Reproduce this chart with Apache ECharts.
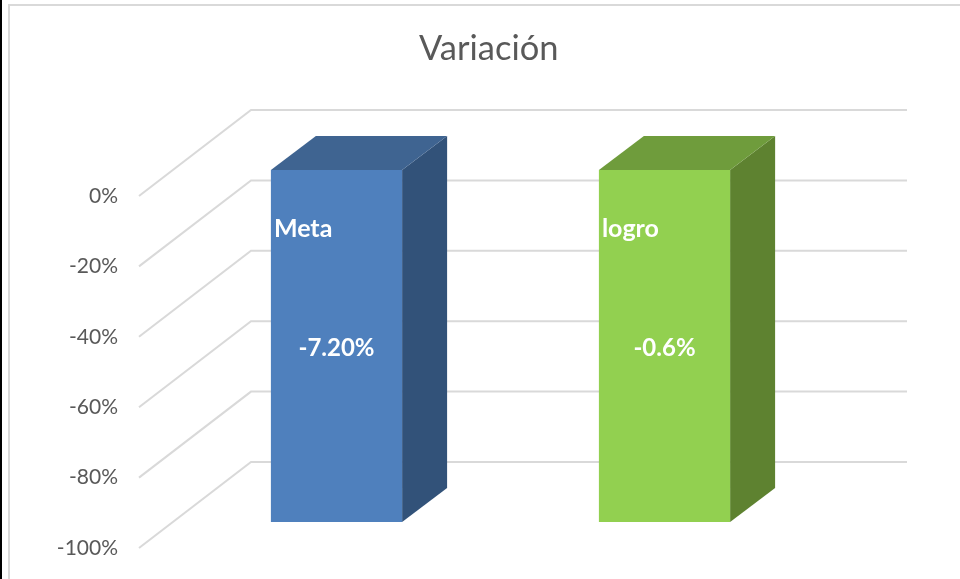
<!DOCTYPE html>
<html>
<head>
<meta charset="utf-8">
<style>html,body{margin:0;padding:0;background:#fff}#c{width:960px;height:579px}</style>
<script src="https://cdn.jsdelivr.net/npm/echarts@6/dist/echarts.min.js"></script>
</head>
<body>
<div id="c"></div>
<script>
const categories = ['Meta', 'logro'];
const barValues = [-100, -100];
const valueLabels = ['-7.20%', '-0.6%'];
const tickValues = [0, -20, -40, -60, -80, -100];
const frontColors = ['#4F80BD', '#92D050'];
const topColors = ['#3F6491', '#6F9C3C'];
const sideColors = ['#325279', '#5E8230'];
const FONT = 'Lato, "Open Sans", sans-serif';

const wallDx = 112, wallDy = -86;     // full depth of the 3D floor
const barInDx = 33.5, barInDy = -26;  // gap from front plane to bar front
const barDx = 45, barDy = -34;        // depth of each bar
const barFrac = 0.4;

const chart = echarts.init(document.getElementById('c'), null, {renderer: 'canvas'});
chart.setOption({
  animation: false,
  backgroundColor: '#fff',
  title: {
    text: 'Variación', left: 414, top: 26,
    textStyle: {fontFamily: FONT, fontSize: 34.5, fontWeight: 'normal', color: '#595959'}
  },
  graphic: [
    {type: 'rect', shape: {x: 0, y: 0, width: 2, height: 579}, style: {fill: '#000'}},
    {type: 'polyline', shape: {points: [[9, 579], [9, 5], [960, 5]]}, style: {stroke: '#D9D9D9', lineWidth: 2, fill: null}}
  ],
  grid: {left: 139, right: 165, top: 196, bottom: 31},
  xAxis: {type: 'category', data: categories, show: false},
  yAxis: {
    type: 'value', min: -100, max: 0, interval: 20,
    axisLine: {show: false}, axisTick: {show: false}, splitLine: {show: false},
    axisLabel: {formatter: '{value}%', margin: 21, padding: [4, 0, 0, 0], fontFamily: FONT, fontSize: 21, color: '#595959'}
  },
  series: [
    {
      type: 'custom', clip: false, silent: true, z: 1,
      data: tickValues.map(v => [0, v]),
      encode: {x: 0, y: 1},
      renderItem(params, api) {
        const cs = params.coordSys;
        const y = api.coord([0, api.value(1)])[1];
        return {
          type: 'polyline',
          shape: {points: [[cs.x, y], [cs.x + wallDx, y + wallDy], [cs.x + cs.width + wallDx, y + wallDy]]},
          style: {stroke: '#D9D9D9', lineWidth: 2, fill: null}
        };
      }
    },
    {
      type: 'custom', clip: false, silent: true, z: 2,
      data: barValues.map((v, i) => [i, v]),
      encode: {x: 0, y: 1},
      renderItem(params, api) {
        const i = params.dataIndex;
        const zero = api.coord([i, 0]);
        const end = api.coord([i, api.value(1)]);
        const w = api.size([1, 0])[0] * barFrac;
        const l = zero[0] + barInDx - w / 2, r = l + w;
        const t = zero[1] + barInDy, b = end[1] + barInDy;
        const h = b - t;
        return {
          type: 'group',
          children: [
            {type: 'polygon', shape: {points: [[r, t], [r + barDx, t + barDy], [r + barDx, b + barDy], [r, b]]}, style: {fill: sideColors[i]}},
            {type: 'polygon', shape: {points: [[l, t], [l + barDx, t + barDy], [r + barDx, t + barDy], [r, t]]}, style: {fill: topColors[i]}},
            {type: 'rect', shape: {x: l, y: t, width: w, height: h}, style: {fill: frontColors[i]}},
            {type: 'text', style: {x: l + 3, y: t + h * 0.168, text: categories[i], fill: '#fff', font: 'bold 25px ' + FONT, textAlign: 'left', textVerticalAlign: 'middle'}},
            {type: 'text', style: {x: l + w / 2, y: t + h * 0.506, text: valueLabels[i], fill: '#fff', font: 'bold 24px ' + FONT, textAlign: 'center', textVerticalAlign: 'middle'}}
          ]
        };
      }
    }
  ]
});
</script>
</body>
</html>
